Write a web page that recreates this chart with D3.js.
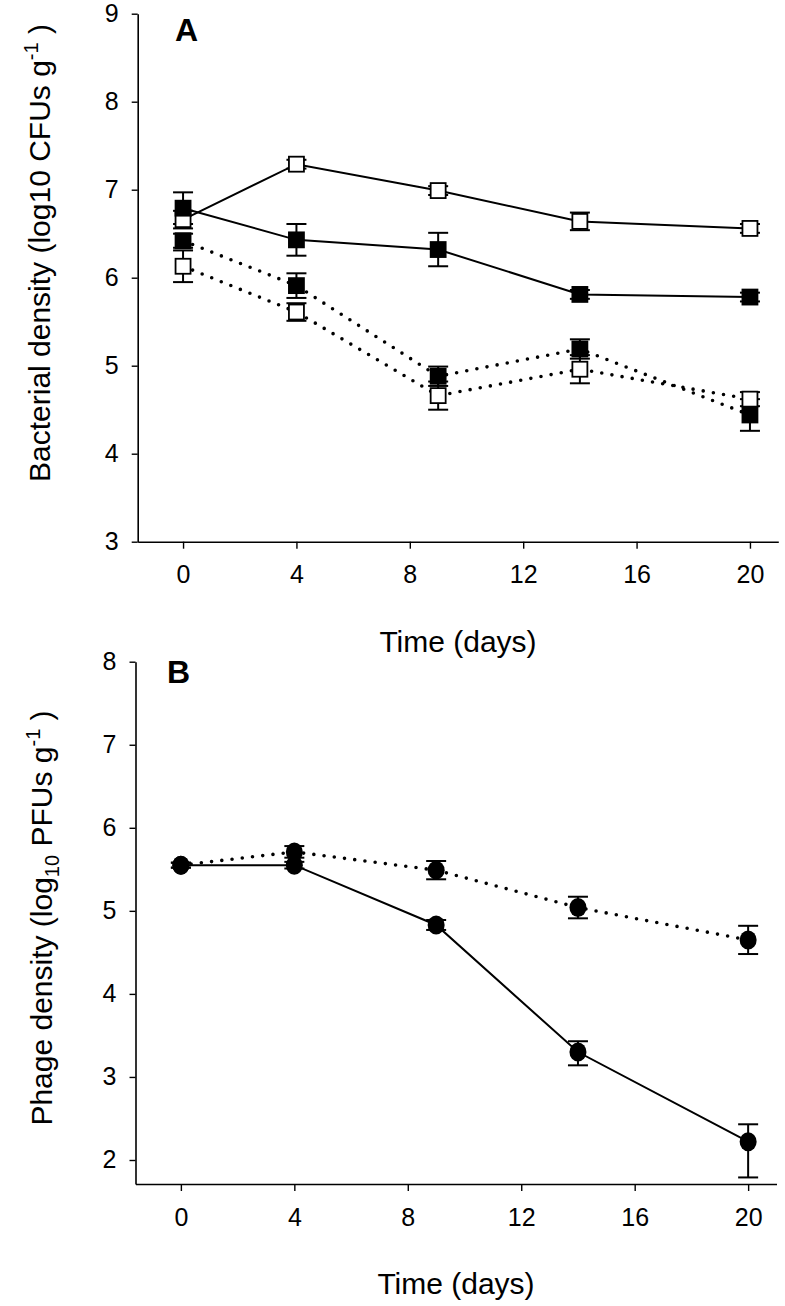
<!DOCTYPE html>
<html>
<head>
<meta charset="utf-8">
<script src="https://cdn.jsdelivr.net/npm/d3@7"></script>
<style>
  html, body { margin: 0; padding: 0; background: #fff; }
  svg { display: block; font-family: "Liberation Sans", Arial, sans-serif; }
</style>
</head>
<body>
<script>
// ---------- Data ----------
const days = [0, 4, 9, 14, 20];
const xTicks = [0, 4, 8, 12, 16, 20];
const yTicksA = [3, 4, 5, 6, 7, 8, 9];
const yTicksB = [2, 3, 4, 5, 6, 7, 8];

// Panel A: bacterial density (log10 CFUs/g)
const openSolid    = [6.66, 7.29, 6.99, 6.64, 6.56];
const openSolidErr = [0.10, 0.05, 0.05, 0.10, 0.05];
const filledSolid    = [6.79, 6.43, 6.32, 5.81, 5.78];
const filledSolidErr = [0.18, 0.18, 0.19, 0.05, 0.05];
const filledDotted    = [6.42, 5.91, 4.88, 5.19, 4.44];
const filledDottedErr = [0.08, 0.14, 0.11, 0.11, 0.18];
const openDotted    = [6.13, 5.61, 4.66, 4.96, 4.62];
const openDottedErr = [0.18, 0.10, 0.16, 0.16, 0.08];

// Panel B: phage density (log10 PFUs/g)
const phageSolid      = [5.55, 5.55, 4.83, 3.30, 2.22];
const phageSolidErrHi = [0.03, 0.04, 0.06, 0.13, 0.21];
const phageSolidErrLo = [0.03, 0.04, 0.06, 0.16, 0.43];
const phageDotted    = [5.55, 5.71, 5.49, 5.04, 4.65];
const phageDottedErr = [0.03, 0.07, 0.11, 0.13, 0.17];

// ---------- Drawing ----------
const W = 785, H = 1306;
const svg = d3.select("body").append("svg").attr("width", W).attr("height", H);
svg.append("rect").attr("width", W).attr("height", H).attr("fill", "#fff");

function panel(cfg) {
  const x = d3.scaleLinear().domain([-1.6, 21]).range([cfg.left, cfg.right]);
  const y = d3.scaleLinear().domain(cfg.yDomain).range([cfg.bottom, cfg.top]);
  const g = svg.append("g");

  // axes
  const fmt = d3.format("d");
  const xAxis = d3.axisBottom(x).tickValues(xTicks).tickFormat(fmt).tickSize(7).tickPadding(17).tickSizeOuter(0);
  const yAxis = d3.axisLeft(y).tickValues(cfg.yTicks).tickFormat(fmt).tickSize(6).tickPadding(13).tickSizeOuter(0);
  const gx = g.append("g").attr("transform", `translate(0,${cfg.bottom})`).call(xAxis);
  const gy = g.append("g").attr("transform", `translate(${cfg.left},0)`).call(yAxis);
  [gx, gy].forEach(a => {
    a.attr("font-size", null).attr("font-family", null);
    a.select(".domain").attr("stroke", "#000").attr("stroke-width", 1.6);
    a.selectAll(".tick line").attr("stroke", "#000").attr("stroke-width", 1.4);
    a.selectAll(".tick text").attr("fill", "#000").style("font-size", "25px")
      .style("font-family", '"Liberation Sans", Arial, sans-serif');
  });

  // panel letter
  g.append("text").attr("x", cfg.letterX).attr("y", cfg.letterY)
    .style("font-size", "32px").style("font-weight", "bold").text(cfg.letter);

  // x title
  g.append("text").attr("x", (cfg.left + cfg.right) / 2).attr("y", cfg.bottom + 110)
    .attr("text-anchor", "middle").style("font-size", "30px").text("Time (days)");

  // y title
  const yt = g.append("text")
    .attr("transform", `translate(${cfg.yTitleX},${cfg.yTitleY}) rotate(-90)`)
    .attr("text-anchor", "middle").style("font-size", "30px");
  cfg.yTitle(yt);

  const line = d3.line().x((d, i) => x(days[i])).y(d => y(d));

  // lines
  cfg.series.forEach(s => {
    g.append("path").datum(s.values).attr("d", line)
      .attr("fill", "none").attr("stroke", "#000")
      .attr("stroke-width", s.dotted ? 3.6 : 2)
      .attr("stroke-dasharray", s.dotted ? "0 10.3" : null)
      .attr("stroke-linecap", s.dotted ? "round" : "butt");
  });

  // error bars
  cfg.series.forEach(s => {
    s.values.forEach((v, i) => {
      const hi = v + s.errHi[i], lo = v - s.errLo[i];
      const cx = x(days[i]);
      g.append("line").attr("x1", cx).attr("x2", cx).attr("y1", y(hi)).attr("y2", y(lo))
        .attr("stroke", "#000").attr("stroke-width", 2);
      [hi, lo].forEach(e => {
        g.append("line").attr("x1", cx - 10).attr("x2", cx + 10).attr("y1", y(e)).attr("y2", y(e))
          .attr("stroke", "#000").attr("stroke-width", 2);
      });
    });
  });

  // markers
  cfg.series.forEach(s => {
    s.values.forEach((v, i) => {
      const cx = x(days[i]), cy = y(v);
      if (s.shape === "square") {
        const sz = 15;
        g.append("rect").attr("x", cx - sz / 2).attr("y", cy - sz / 2)
          .attr("width", sz).attr("height", sz)
          .attr("fill", s.filled ? "#000" : "#fff")
          .attr("stroke", "#000").attr("stroke-width", 1.8);
      } else {
        g.append("ellipse").attr("cx", cx).attr("cy", cy).attr("rx", 8.5).attr("ry", 9.5)
          .attr("fill", "#000");
      }
    });
  });
}

panel({
  left: 137.7, right: 778.3, top: 13.7, bottom: 541.7,
  yDomain: [3, 9], yTicks: yTicksA,
  letter: "A", letterX: 175, letterY: 41,
  yTitleX: 50, yTitleY: 253,
  yTitle: t => {
    t.append("tspan").text("Bacterial density (log10 CFUs g");
    t.append("tspan").attr("dy", -12).style("font-size", "20px").text("-1");
    t.append("tspan").attr("dy", 12).text(" )");
  },
  series: [
    { values: openSolid, errHi: openSolidErr, errLo: openSolidErr, dotted: false, shape: "square", filled: false },
    { values: openDotted, errHi: openDottedErr, errLo: openDottedErr, dotted: true, shape: "square", filled: false },
    { values: filledSolid, errHi: filledSolidErr, errLo: filledSolidErr, dotted: false, shape: "square", filled: true },
    { values: filledDotted, errHi: filledDottedErr, errLo: filledDottedErr, dotted: true, shape: "square", filled: true }
  ]
});

panel({
  left: 135.5, right: 776.5, top: 661.7, bottom: 1184,
  yDomain: [1.711, 8], yTicks: yTicksB,
  letter: "B", letterX: 167, letterY: 683,
  yTitleX: 52, yTitleY: 918,
  yTitle: t => {
    t.append("tspan").text("Phage density (log");
    t.append("tspan").attr("dy", 7).style("font-size", "20px").text("10");
    t.append("tspan").attr("dy", -7).text(" PFUs g");
    t.append("tspan").attr("dy", -12).style("font-size", "20px").text("-1");
    t.append("tspan").attr("dy", 12).text(" )");
  },
  series: [
    { values: phageSolid, errHi: phageSolidErrHi, errLo: phageSolidErrLo, dotted: false, shape: "circle" },
    { values: phageDotted, errHi: phageDottedErr, errLo: phageDottedErr, dotted: true, shape: "circle" }
  ]
});
</script>
</body>
</html>
